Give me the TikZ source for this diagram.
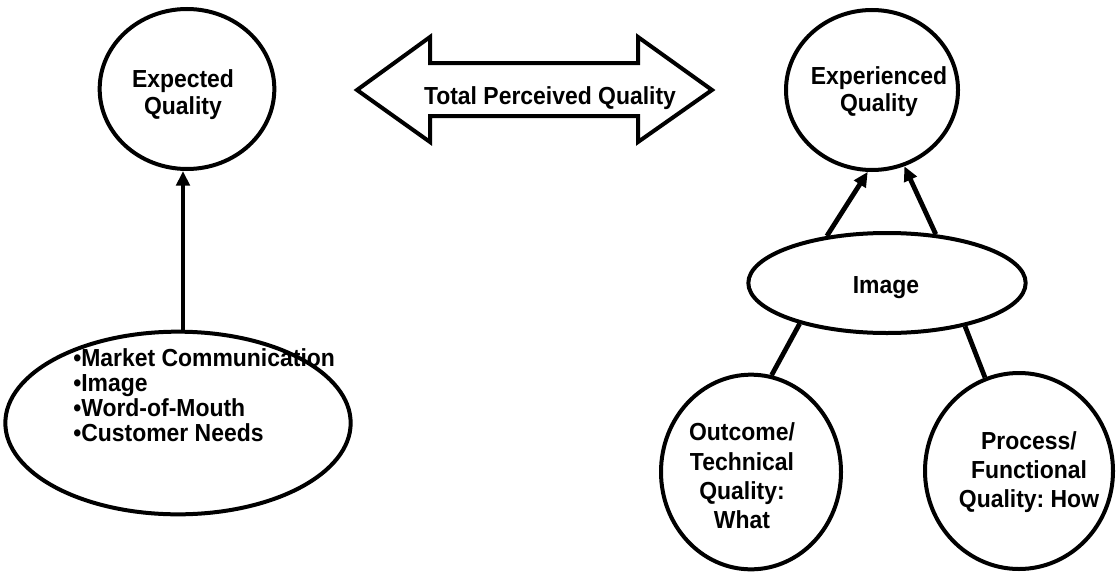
\documentclass[tikz,border=0pt]{standalone}
\usepackage{fontspec}
\setmainfont{Liberation Sans}[FakeStretch=0.93]
\frenchspacing
\usetikzlibrary{arrows.meta,shapes.geometric}
\begin{document}
\begin{tikzpicture}[x=0.75pt,y=-0.75pt,
  lbl/.style={font=\bfseries\fontsize{18.5}{#1}\selectfont, align=center, inner sep=0pt},
  lbl/.default=20.25,
  oval/.style={draw, line width=3pt, ellipse, inner sep=0pt},
  arr/.style={line width=3.6pt, -{Triangle[length=11pt,width=10pt]}},
  link/.style={line width=3.6pt}]
\useasboundingbox (0,0) rectangle (1116,571);

% quality ovals
\node[oval, minimum width=131pt, minimum height=120pt] (expq) at (187,89) {};
\node[oval, minimum width=129pt, minimum height=120pt] (expd) at (872,90) {};
\node[oval, minimum width=259pt, minimum height=137pt] (mkt) at (178,423) {};
\node[oval, minimum width=208pt, minimum height=75pt] (img) at (887,283) {};
\node[oval, minimum width=135pt, minimum height=146pt] (tech) at (751,472) {};
\node[oval, minimum width=141pt, minimum height=147pt] (func) at (1019,471) {};

% labels
\node[lbl] (expq-t) at (183,95) {Expected\\Quality};
\node[lbl] (expd-t) at (879,92) {Experienced\\Quality};
\node[lbl=18.75, align=left, anchor=west] (mkt-t) at (73,395)
  {•Market Communication\\•Image\\•Word-of-Mouth\\•Customer Needs};
\node[lbl] (img-t) at (886,288) {Image};
\node[lbl=22] (tech-t) at (742,476) {Outcome/\\Technical\\Quality:\\What};
\node[lbl=22] (func-t) at (1029,472) {Process/\\Functional\\Quality: How};

% total perceived quality double arrow
\draw[line width=3pt, line join=miter]
  (357,90) -- (430,37) -- (430,63) -- (638,63) -- (638,37) -- (712,90)
  -- (638,142) -- (638,116) -- (430,116) -- (430,142) -- cycle;
\node[lbl] (tpq) at (550,98) {Total Perceived Quality};

% connectors
\draw[arr] (mkt.north -| expq-t) -- (expq.south -| expq-t);
\draw[arr] (img.142.7) -- (expd.267);
\draw[arr] (img.45) -- (expd.293.6);
\draw[link] (img.205) -- (tech.78);
\draw[link] (img.331) -- (func.110);
\end{tikzpicture}
\end{document}
